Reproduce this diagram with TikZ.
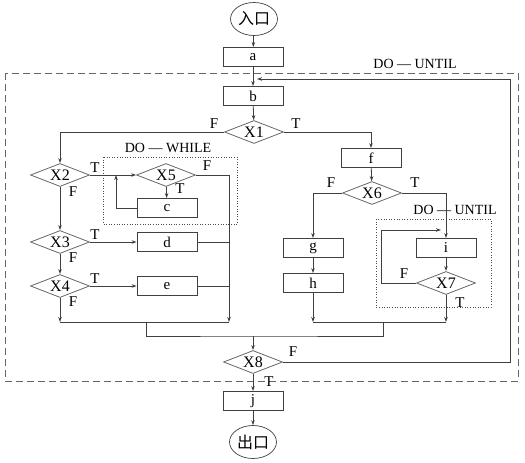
\documentclass[tikz,border=0pt]{standalone}
\usepackage{fontspec}
\setmainfont{Liberation Serif}
\newfontfamily\cjk{Noto Sans CJK SC}
\usetikzlibrary{shapes.geometric,arrows.meta}
\begin{document}
\begin{tikzpicture}[x=1pt,y=-1pt,
  line/.style={draw=black!75, line width=0.8pt},
  arr/.style={line, -{Stealth[length=5pt,width=3.5pt]}},
  box/.style={rectangle, draw=black!75, line width=0.8pt, minimum width=60pt, minimum height=19pt, inner sep=0pt, font=\fontsize{15}{15}\selectfont},
  dia/.style={diamond, draw=black!60, line width=0.8pt, shape aspect=2.5, minimum width=59pt, minimum height=23pt, inner sep=0pt, font=\fontsize{16}{16}\selectfont},
  term/.style={ellipse, draw=black!75, line width=0.7pt, minimum width=47pt, minimum height=33pt, inner sep=0pt, font=\cjk\fontsize{16}{16}\selectfont},
  lab/.style={inner sep=0pt, font=\fontsize{15}{15}\selectfont},
  looplab/.style={inner sep=0pt, font=\fontsize{14}{14}\selectfont},
  outerloop/.style={draw=black!60, line width=0.8pt, dash pattern=on 7pt off 4pt},
  innerloop/.style={draw=black!70, line width=0.6pt, dotted}]
\useasboundingbox (0,0) rectangle (525,463);

% loop frames
\draw[outerloop] (5,73) rectangle (518,381);
\draw[innerloop] (103,157) rectangle (237,224);
\draw[innerloop] (376,219) rectangle (491,307);
\node[looplab] (lu1) at (415,64) {DO — UNTIL};
\node[looplab] (lw) at (168,148) {DO — WHILE};
\node[looplab] (lu2) at (455,210) {DO — UNTIL};

% nodes
\node[term] (in) at (254,19) {入口};
\node[box] (a) at (253,57) {a};
\node[box] (b) at (253,96) {b};
\node[dia] (x1) at (254,132) {X1};
\node[box] (f) at (371,158) {f};
\node[dia] (x2) at (60,175) {X2};
\node[dia] (x5) at (166,175) {X5};
\node[box] (c) at (167,208) {c};
\node[dia] (x3) at (60,242) {X3};
\node[box] (d) at (167,242) {d};
\node[dia] (x4) at (60,286) {X4};
\node[box] (e) at (167,286) {e};
\node[dia] (x6) at (372,193) {X6};
\node[box] (g) at (313,248) {g};
\node[box] (h) at (313,283) {h};
\node[box] (i) at (446,248) {i};
\node[dia] (x7) at (446,283) {X7};
\node[dia] (x8) at (253,362) {X8};
\node[box] (j) at (253,401) {j};
\node[term] (out) at (253,442) {出口};

% coordinates
\coordinate (lm) at (229,322);
\coordinate (ll) at (60,322);
\coordinate (lmid) at (146,322);
\coordinate (rl) at (313,322);
\coordinate (rr) at (446,322);
\coordinate (rmid) at (383,322);
\coordinate (bm) at (253,336);
\coordinate (cl) at (116,175);
\coordinate (x7t) at (441,230);
\coordinate (fb) at (257,79);

% connectors
\draw[arr] (in) -- (a);
\draw[arr] (a) -- (b);
\draw[arr] (b) -- (x1);
\draw[arr] (x1.west) -| (x2.north);
\draw[arr] (x1.east) -| (f.north);
\draw[arr] (f) -- (x6);
\draw[arr] (x2.east) -- (x5.west);
\draw[arr] (x5.east) -| (lm);
\draw[arr] (x5) -- (c);
\draw[arr] (c.west) -| (cl);
\draw[arr] (x2) -- (x3);
\draw[arr] (x3.east) -- (d.west);
\draw[line] (d.east) -- (d.east -| lm);
\draw[arr] (x3) -- (x4);
\draw[arr] (x4.east) -- (e.west);
\draw[line] (e.east) -- (e.east -| lm);
\draw[arr] (x4.south) -- (ll);
\draw[line] (ll) -- (lm);
\draw[line] (lmid) |- (bm) -| (rmid);
\draw[arr] (bm) -- (x8);
\draw[arr] (x6.west) -| (g.north);
\draw[arr] (g) -- (h);
\draw[arr] (h.south) -- (rl);
\draw[arr] (x6.east) -| (i.north);
\draw[arr] (i) -- (x7);
\draw[arr] (x7.west) -- (381,283) |- (x7t);
\draw[arr] (x7.south) -- (rr);
\draw[line] (rl) -- (rr);
\draw[arr] (x8.east) -- (510,362) |- (fb);
\draw[arr] (x8) -- (j);
\draw[arr] (j) -- (out);

% labels
\node[lab] at (214,124) {F};
\node[lab] at (296,124) {T};
\node[lab] at (95,168) {T};
\node[lab] at (207,166) {F};
\node[lab] at (180,189) {T};
\node[lab] at (73,192) {F};
\node[lab] at (95,235) {T};
\node[lab] at (73,258) {F};
\node[lab] at (95,279) {T};
\node[lab] at (73,302) {F};
\node[lab] at (331,183) {F};
\node[lab] at (415,183) {T};
\node[lab] at (404,274) {F};
\node[lab] at (460,303) {T};
\node[lab] at (293,352) {F};
\node[lab] at (269,382) {T};
\end{tikzpicture}
\end{document}
